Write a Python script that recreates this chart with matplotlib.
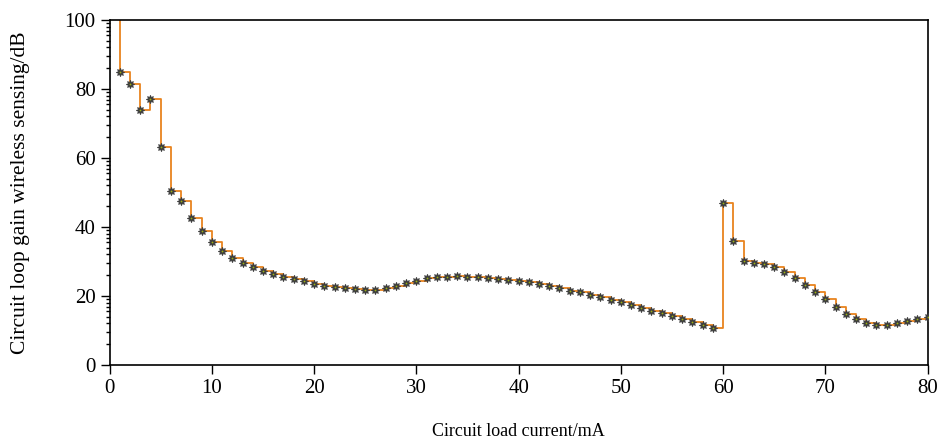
import numpy as np
import matplotlib
matplotlib.use("Agg")
import matplotlib.pyplot as plt
from matplotlib.ticker import FixedLocator

plt.rcParams['font.family'] = ['Liberation Serif', 'DejaVu Serif']

# load current (mA), one reading per mA from 1 to 80
current = np.arange(1, 81)
gain = [85.0, 81.4, 73.9, 77.2, 63.1, 50.5, 47.5, 42.7, 38.8, 35.6,
        33.0, 31.0, 29.6, 28.3, 27.2, 26.4, 25.6, 24.9, 24.3, 23.6,
        23.0, 22.5, 22.2, 21.9, 21.7, 21.8, 22.3, 22.9, 23.7, 24.4,
        25.1, 25.4, 25.6, 25.8, 25.6, 25.6, 25.3, 25.0, 24.7, 24.4,
        24.0, 23.5, 22.9, 22.2, 21.5, 21.0, 20.3, 19.7, 18.8, 18.1,
        17.4, 16.6, 15.7, 15.0, 14.2, 13.2, 12.4, 11.6, 10.6, 46.9,
        36.0, 30.1, 29.6, 29.3, 28.3, 27.0, 25.3, 23.3, 21.2, 19.1,
        16.9, 14.9, 13.3, 12.1, 11.6, 11.6, 12.1, 12.7, 13.3, 14.0]
# value before the first reading (off the top of the axis)
start_x, start_gain = 0, 110.0

fig = plt.figure(figsize=(9.39, 4.45), dpi=100)
ax = fig.add_axes([0.1167, 0.180, 0.8711, 0.775])

line_x = np.concatenate([[start_x], current])
line_y = np.concatenate([[start_gain], gain])
ax.step(line_x, line_y, where='post', color='#e8841f', lw=1.3, zorder=2)
ax.plot(current, gain, ls='none', marker=(8, 1, 0), ms=6,
        mfc='#3d3d3d', mec='#3d3d3d', mew=0.6, zorder=3)
ax.plot(current, gain, ls='none', marker='o', ms=1.3,
        mfc='#9bb014', mec='none', zorder=4)

ax.set_xlim(0, 80)
ax.set_ylim(0, 100)
ax.set_xticks(range(0, 81, 10))
ax.set_yticks(range(0, 101, 20))
minor = [b + 20 * np.log10(k) for b in range(0, 100, 20) for k in range(2, 10)]
ax.yaxis.set_minor_locator(FixedLocator(minor))

ax.tick_params(axis='both', which='major', direction='out', length=6.5,
               width=1.0, labelsize=15, color='black')
ax.tick_params(axis='y', which='minor', direction='out', length=3, width=1.0)
for s in ax.spines.values():
    s.set_linewidth(1.2)

ax.set_xlabel('Circuit load current/mA', fontsize=13, labelpad=18)
ax.set_ylabel('Circuit loop gain wireless sensing/dB', fontsize=15.5)
ax.yaxis.set_label_coords(-0.097, 0.5)

plt.savefig('out.png', dpi=100)
